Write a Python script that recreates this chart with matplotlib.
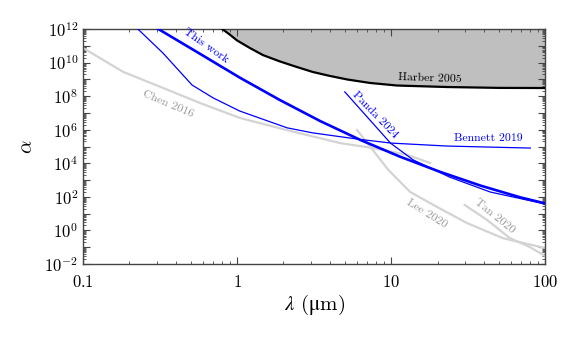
import numpy as np
import matplotlib
matplotlib.use('Agg')
import matplotlib.pyplot as plt
from matplotlib.ticker import LogLocator, FuncFormatter, NullFormatter

plt.rcParams['font.family'] = ['cmr10', 'DejaVu Serif']
plt.rcParams['mathtext.fontset'] = 'cm'
plt.rcParams['axes.formatter.use_mathtext'] = True

# curves (lambda in um, alpha)
harber_x = [0.78, 0.90, 1.0, 1.21, 1.47, 1.9, 2.45, 3.1, 4.0, 5.2, 7.3, 10.9, 23, 51, 100]
harber_y = [1.2e12, 4.5e11, 2.07e11, 7.4e10, 2.8e10, 1.16e10, 5.4e9, 2.75e9, 1.6e9,
            9.8e8, 6.1e8, 4.3e8, 3.5e8, 3.1e8, 3.05e8]

this_work_x = [0.30, 0.575, 1.045, 1.9, 3.46, 6.29, 11.4, 20.8, 37.8, 68.9, 100]
this_work_y = [1.15e12, 3.3e10, 1.24e9, 5.8e7, 3.3e6, 2.5e5, 2.5e4, 3.1e3, 480, 94, 41]

bennett_x = [0.22, 0.33, 0.51, 0.70, 1.04, 2.11, 3.1, 6.0, 10, 23, 80]
bennett_y = [1.3e12, 3.7e10, 4.6e8, 7.8e7, 1.3e7, 1.3e6, 6.5e5, 2.8e5, 1.6e5, 1.07e5, 8.1e4]

panda_x = [5.0, 9.9, 13.9, 24, 44, 100]
panda_y = [1.8e8, 1.6e5, 1.6e4, 1.5e3, 195, 38]

chen_x = [0.1, 0.182, 0.33, 0.575, 1.045, 2.21, 4.67, 7.64, 12.7, 17.9]
chen_y = [7.4e10, 2.8e9, 3.1e8, 3.9e7, 5.0e6, 8.5e5, 1.6e5, 8.1e4, 3.2e4, 1.05e4]

lee_x = [6.0, 7.6, 9.6, 13.3, 19.9, 31, 53, 100]
lee_y = [9.6e5, 6.2e4, 4.0e3, 195, 25, 2.8, 0.35, 0.09]

tan_x = [30, 42, 59, 80, 100]
tan_y = [33, 4.2, 0.35, 0.1, 0.03]

blue = '#0000ff'
grey = '#d3d3d3'
grey_txt = '#999999'

fig = plt.figure(figsize=(5.65, 3.39), dpi=100)
ax = fig.add_axes([0.147, 0.221, 0.818, 0.6935])

ax.fill_between(harber_x, harber_y, 1e13, color='#bfbfbf', lw=0, zorder=1)
ax.plot(harber_x, harber_y, color='black', lw=1.6, zorder=3)

ax.plot(chen_x, chen_y, color=grey, lw=1.6, zorder=2)
ax.plot(lee_x, lee_y, color=grey, lw=1.6, zorder=2)
ax.plot(tan_x, tan_y, color=grey, lw=1.6, zorder=2)

ax.plot(bennett_x, bennett_y, color=blue, lw=0.9, zorder=3)
ax.plot(panda_x, panda_y, color=blue, lw=0.9, zorder=3)
ax.plot(this_work_x, this_work_y, color=blue, lw=1.9, zorder=4)

# curve labels
fs = 8.5
ax.text(0.63, 9.5e10, 'This work', color=blue, fontsize=fs, rotation=-35,
        ha='center', va='center', rotation_mode='anchor')
ax.text(0.356, 3.4e7, 'Chen 2016', color=grey_txt, fontsize=fs, rotation=-23,
        ha='center', va='center', rotation_mode='anchor')
ax.text(17.9, 1.2e9, 'Harber 2005', color='black', fontsize=fs, rotation=-2,
        ha='center', va='center', rotation_mode='anchor')
ax.text(7.9, 7.6e6, 'Panda 2024', color=blue, fontsize=fs, rotation=-46,
        ha='center', va='center', rotation_mode='anchor')
ax.text(43, 3.2e5, 'Bennett 2019', color=blue, fontsize=fs,
        ha='center', va='center')
ax.text(17.1, 9.5, 'Lee 2020', color=grey_txt, fontsize=fs, rotation=-32,
        ha='center', va='center', rotation_mode='anchor')
ax.text(47, 7.2, 'Tan 2020', color=grey_txt, fontsize=fs, rotation=-39,
        ha='center', va='center', rotation_mode='anchor')

ax.set_xscale('log')
ax.set_yscale('log')
ax.set_xlim(0.1, 100)
ax.set_ylim(1e-2, 1e12)

ax.yaxis.set_major_locator(LogLocator(base=10, numticks=30))
ax.yaxis.set_minor_locator(LogLocator(base=10, subs=np.arange(2, 10), numticks=30))
ax.yaxis.set_major_formatter(FuncFormatter(
    lambda v, p: r'$10^{%d}$' % round(np.log10(v)) if round(np.log10(v)) % 2 == 0 else ''))
ax.yaxis.set_minor_formatter(NullFormatter())
ax.xaxis.set_major_formatter(FuncFormatter(lambda v, p: '$%g$' % v))
ax.xaxis.set_minor_formatter(NullFormatter())

ax.tick_params(which='both', direction='in', top=True, right=True, color='#444444',
               labelsize=12)
ax.tick_params(which='major', length=5, width=0.8)
ax.tick_params(which='minor', length=2.5, width=0.6)
ax.tick_params(axis='x', pad=7)
for s in ax.spines.values():
    s.set_color('#444444')
    s.set_linewidth(1.0)

ax.set_xlabel(r'$\lambda$ ($\mathrm{\mu}$m)', fontsize=15, labelpad=2,
              math_fontfamily='stix')
ax.set_ylabel(r'$\alpha$', fontsize=15, labelpad=6)

fig.savefig('out.png', dpi=100)
